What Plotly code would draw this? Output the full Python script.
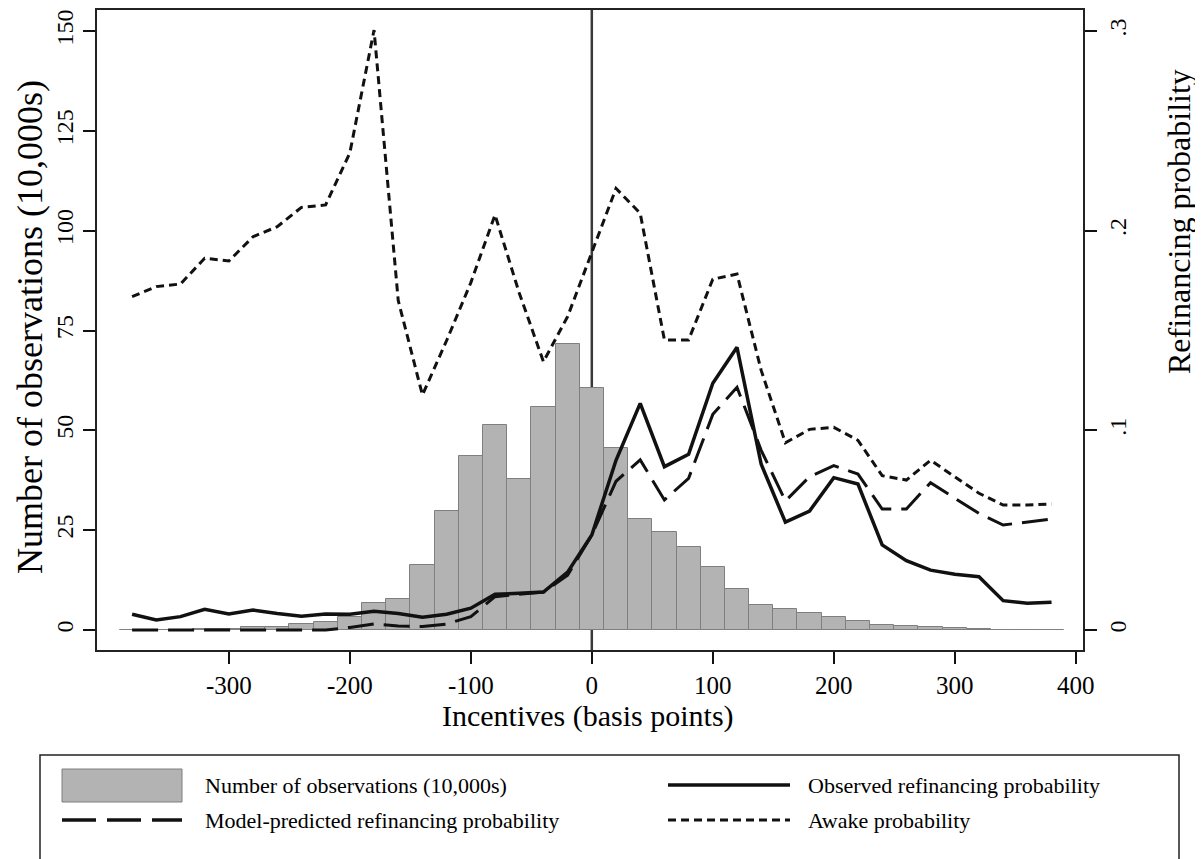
import plotly.graph_objects as go

# ---- data ----
incentives = list(range(-380, 381, 20))
n_obs = [0.05, 0.05, 0.1, 0.15, 0.3, 0.7, 0.8, 1.4, 2.1, 3.3,
         6.7, 7.8, 16.4, 29.7, 43.7, 51.4, 37.7, 55.8, 71.6, 60.5,
         45.6, 27.7, 24.5, 20.9, 15.9, 10.2, 6.2, 5.2, 4.2, 3.3,
         2.25, 1.3, 0.9, 0.7, 0.4, 0.2, 0.1, 0.05, 0.05]
observed = [0.0079, 0.0050, 0.0067, 0.0104, 0.0080, 0.0100, 0.0083, 0.0069, 0.0080, 0.0079,
            0.0094, 0.0083, 0.0064, 0.0079, 0.0109, 0.0179, 0.0184, 0.0190, 0.0290, 0.0476,
            0.0850, 0.1135, 0.0818, 0.0880, 0.1236, 0.1416, 0.0830, 0.0540, 0.0596, 0.0763,
            0.0731, 0.0426, 0.0347, 0.0300, 0.0279, 0.0267, 0.0147, 0.0134, 0.0139]
model = [0.0, 0.0, 0.0, 0.0, 0.0, 0.0, 0.0, 0.0, 0.0, 0.0013,
         0.0030, 0.0020, 0.0017, 0.0030, 0.0067, 0.0167, 0.0180, 0.0190, 0.0275, 0.0476,
         0.0745, 0.0852, 0.0651, 0.0760, 0.1080, 0.1216, 0.0900, 0.0646, 0.0768, 0.0823,
         0.0781, 0.0606, 0.0606, 0.0738, 0.0660, 0.0584, 0.0526, 0.0540, 0.0556]
awake = [0.167, 0.172, 0.1733, 0.1862, 0.1848, 0.197, 0.202, 0.2117, 0.2129, 0.239,
         0.3005, 0.165, 0.1177, 0.145, 0.174, 0.2079, 0.1688, 0.1344, 0.157, 0.1887,
         0.2212, 0.2087, 0.1453, 0.1453, 0.1757, 0.1783, 0.130, 0.0938, 0.1005, 0.1015,
         0.095, 0.0773, 0.0751, 0.085, 0.0768, 0.0685, 0.0626, 0.0626, 0.0631]

left_ticks = [0, 25, 50, 75, 100, 125, 150]
left_tick_labels = ["0", "25", "50", "75", "100", "125", "150"]
right_ticks = [0, 0.1, 0.2, 0.3]
right_tick_labels = ["0", ".1", ".2", ".3"]
x_ticks = [-300, -200, -100, 0, 100, 200, 300, 400]
x_tick_labels = ["-300", "-200", "-100", "0", "100", "200", "300", "400"]

FONT = "Liberation Serif, Times New Roman, serif"
BAR_FILL = "#b3b3b3"
BAR_LINE = "#7f7f7f"

fig = go.Figure()
fig.add_trace(go.Bar(x=incentives, y=n_obs, width=20, yaxis="y",
                     marker=dict(color=BAR_FILL, line=dict(color=BAR_LINE, width=1)),
                     name="Number of observations (10,000s)"))
fig.add_trace(go.Scatter(x=incentives, y=observed, yaxis="y2", mode="lines",
                         line=dict(color="#111111", width=3.5),
                         name="Observed refinancing probability"))
fig.add_trace(go.Scatter(x=incentives, y=model, yaxis="y2", mode="lines",
                         line=dict(color="#111111", width=3, dash="26px,10px"),
                         name="Model-predicted refinancing probability"))
fig.add_trace(go.Scatter(x=incentives, y=awake, yaxis="y2", mode="lines",
                         line=dict(color="#111111", width=3, dash="8px,5px"),
                         name="Awake probability"))

# the page body adds an 8px offset; target pixel coordinates are in screenshot space
OFF = 8
W, H = 1203 - OFF, 859 - OFF
PL, PR, PT, PB = 97, 1083, 10, 650          # plot area in screenshot pixels
L, T = PL - OFF, PT - OFF
R = W - (PR - OFF)
B = H - (PB - OFF)
pw, ph = PR - PL, PB - PT

def px(x):
    return (x - PL) / pw

def py(y):
    return (PB - y) / ph

ymin, ymax = -5.01, 155.27

axis_common = dict(showline=True, linecolor="#222222", linewidth=2, ticks="outside",
                   ticklen=12, tickwidth=1.5, tickcolor="#111111", showgrid=False,
                   zeroline=False)

fig.update_layout(
    width=W, height=H,
    margin=dict(l=L, r=R, t=T, b=B, autoexpand=False),
    paper_bgcolor="white", plot_bgcolor="white",
    font=dict(family=FONT, size=24, color="black"),
    showlegend=False, bargap=0,
    xaxis=dict(range=[-409, 406], tickmode="array", tickvals=x_ticks,
               ticktext=x_tick_labels, mirror=True, **axis_common),
    yaxis=dict(range=[ymin, ymax], tickmode="array", tickvals=left_ticks,
               ticktext=left_tick_labels, tickangle=-90, **axis_common),
    yaxis2=dict(range=[ymin / 500, ymax / 500], tickmode="array", tickvals=right_ticks,
                ticktext=right_tick_labels, tickangle=-90, overlaying="y",
                side="right", **axis_common),
)
fig.update_xaxes(tickfont_family=FONT, tickfont_size=25, tickfont_color="black")
fig.update_yaxes(tickfont_family=FONT, tickfont_size=24, tickfont_color="black")
fig.layout.yaxis2.tickfont = dict(family=FONT, size=24, color="black")

# vertical reference line at 0
fig.add_shape(type="line", xref="x", yref="paper", x0=0, x1=0, y0=0, y1=1,
              line=dict(color="#3a3a3a", width=2.5), layer="below")

# axis titles
fig.add_annotation(text="Incentives (basis points)", xref="paper", yref="paper",
                   x=px(588), y=py(716), xanchor="center", yanchor="middle",
                   showarrow=False, font=dict(family=FONT, size=30, color="black"))
fig.add_annotation(text="Number of observations (10,000s)", xref="paper", yref="paper",
                   x=px(30), y=py(327), xanchor="center", yanchor="middle",
                   showarrow=False, textangle=-90,
                   font=dict(family=FONT, size=36, color="black"))
fig.add_annotation(text="Refinancing probability", xref="paper", yref="paper",
                   x=px(1179), y=py(222), xanchor="center", yanchor="middle",
                   showarrow=False, textangle=-90,
                   font=dict(family=FONT, size=32, color="black"))

# legend box (drawn manually to mimic the two-column layout)
fig.add_shape(type="rect", xref="paper", yref="paper",
              x0=px(40), x1=px(1179), y0=py(880), y1=py(755),
              line=dict(color="#222222", width=1.5), fillcolor="rgba(0,0,0,0)")
fig.add_shape(type="rect", xref="paper", yref="paper",
              x0=px(62), x1=px(182), y0=py(802), y1=py(769),
              line=dict(color=BAR_LINE, width=1), fillcolor=BAR_FILL)
fig.add_shape(type="line", xref="paper", yref="paper",
              x0=px(62), x1=px(182), y0=py(820), y1=py(820),
              line=dict(color="#111111", width=3.5, dash="34px,11px"))
fig.add_shape(type="line", xref="paper", yref="paper",
              x0=px(668), x1=px(790), y0=py(785), y1=py(785),
              line=dict(color="#111111", width=3.5))
fig.add_shape(type="line", xref="paper", yref="paper",
              x0=px(668), x1=px(790), y0=py(820), y1=py(820),
              line=dict(color="#111111", width=3, dash="8px,5px"))

legend_items = [
    ("Number of observations (10,000s)", 203, 785),
    ("Model-predicted refinancing probability", 203, 820),
    ("Observed refinancing probability", 806, 785),
    ("Awake probability", 806, 820),
]
for txt, lx, ly in legend_items:
    fig.add_annotation(text=txt, xref="paper", yref="paper", x=px(lx), y=py(ly),
                       xanchor="left", yanchor="middle", showarrow=False,
                       font=dict(family=FONT, size=22, color="black"))

fig.write_html("out.html")
